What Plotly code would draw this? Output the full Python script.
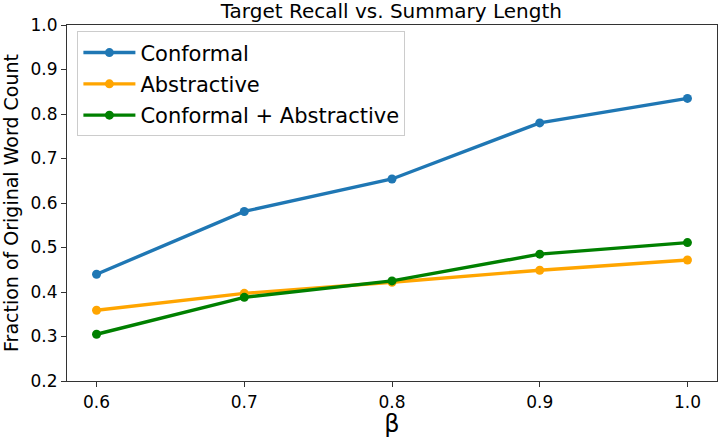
import plotly.graph_objects as go

beta = [0.6, 0.7, 0.8, 0.9, 1.0]
conformal = [0.440, 0.581, 0.654, 0.780, 0.835]
abstractive = [0.359, 0.397, 0.422, 0.449, 0.472]
conf_abs = [0.305, 0.388, 0.425, 0.485, 0.511]
xticks = [0.6, 0.7, 0.8, 0.9, 1.0]
xticklabels = ["0.6", "0.7", "0.8", "0.9", "1.0"]
yticks = [0.2, 0.3, 0.4, 0.5, 0.6, 0.7, 0.8, 0.9, 1.0]
yticklabels = ["0.2", "0.3", "0.4", "0.5", "0.6", "0.7", "0.8", "0.9", "1.0"]

series = [
    ("Conformal", conformal, "#1f77b4"),
    ("Abstractive", abstractive, "#FFA500"),
    ("Conformal + Abstractive", conf_abs, "#008000"),
]

fig = go.Figure()
for i, (name, vals, col) in enumerate(series):
    fig.add_trace(go.Scatter(
        x=beta, y=vals, name=name, mode="lines+markers",
        line=dict(color=col, width=3.4),
        marker=dict(color=col, size=9),
        legendgroup="g%d" % i,
    ))

axis_common = dict(
    showline=True, linecolor="#333333", linewidth=1.2, mirror=True,
    ticks="outside", ticklen=5, tickcolor="#333333", showgrid=False, zeroline=False,
    tickfont=dict(size=17, color="black"),
)

fig.update_layout(
    width=718, height=438,
    margin=dict(l=67, r=1, t=25, b=57),
    paper_bgcolor="white", plot_bgcolor="white",
    font=dict(family="DejaVu Sans", color="black"),
    title=dict(text="Target Recall vs. Summary Length", x=0.545, xanchor="center",
               y=0.975, yanchor="middle", font=dict(size=20)),
    xaxis=dict(range=[0.58, 1.02], tickvals=xticks, ticktext=xticklabels,
               title=dict(text="β", font=dict(size=24), standoff=3), **axis_common),
    yaxis=dict(range=[0.2, 1.0], tickvals=yticks, ticktext=yticklabels,
               title=dict(text="Fraction of Original Word Count", font=dict(size=19), standoff=6),
               **axis_common),
    legend=dict(x=0.016, y=0.982, xanchor="left", yanchor="top",
                bgcolor="rgba(255,255,255,0.8)", bordercolor="#cccccc", borderwidth=1,
                font=dict(size=21), itemwidth=52, tracegroupgap=1),
    showlegend=True,
)

fig.write_html("out.html", config={"displayModeBar": False},
               post_script="document.body.style.margin='0px';")
